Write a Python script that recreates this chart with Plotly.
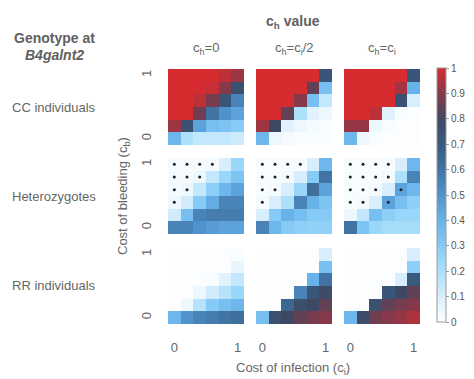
import plotly.graph_objects as go

W, H = 474, 379

# ---------------- data ----------------
axis_vals = [0, 0.2, 0.4, 0.6, 0.8, 1.0]   # c_i (x) and c_b (y) grid
col_titles = ["c<sub>h</sub>=0", "c<sub>h</sub>=c<sub>i</sub>/2", "c<sub>h</sub>=c<sub>i</sub>"]
row_titles = ["CC individuals", "Heterozygotes", "RR individuals"]

# rows listed bottom (c_b=0) -> top (c_b=1), columns c_i=0 -> 1
cc_ch0 = [
    [0.38, 0.20, 0.15, 0.15, 0.15, 0.13],
    [0.93, 0.75, 0.45, 0.35, 0.33, 0.30],
    [1.00, 1.00, 0.87, 0.60, 0.50, 0.45],
    [1.00, 1.00, 0.97, 0.88, 0.72, 0.55],
    [1.00, 1.00, 1.00, 0.98, 0.90, 0.75],
    [1.00, 1.00, 1.00, 1.00, 0.97, 0.93],
]
cc_chhalf = [
    [0.38, 0.05, 0.03, 0.02, 0.02, 0.02],
    [0.93, 0.80, 0.08, 0.05, 0.03, 0.02],
    [1.00, 1.00, 0.85, 0.20, 0.08, 0.05],
    [1.00, 1.00, 1.00, 0.90, 0.35, 0.15],
    [1.00, 1.00, 1.00, 1.00, 0.85, 0.35],
    [1.00, 1.00, 1.00, 1.00, 1.00, 0.72],
]
cc_chi = [
    [0.38, 0.05, 0.02, 0.01, 0.01, 0.01],
    [0.92, 0.92, 0.05, 0.02, 0.01, 0.01],
    [1.00, 1.00, 0.97, 0.08, 0.02, 0.01],
    [1.00, 1.00, 1.00, 1.00, 0.75, 0.10],
    [1.00, 1.00, 1.00, 1.00, 0.94, 0.40],
    [1.00, 1.00, 1.00, 1.00, 1.00, 0.72],
]
het_ch0 = [
    [0.55, 0.55, 0.50, 0.47, 0.45, 0.45],
    [0.12, 0.35, 0.55, 0.57, 0.57, 0.57],
    [0.05, 0.12, 0.30, 0.42, 0.55, 0.55],
    [0.03, 0.05, 0.15, 0.28, 0.38, 0.45],
    [0.03, 0.03, 0.05, 0.15, 0.25, 0.33],
    [0.03, 0.03, 0.03, 0.03, 0.10, 0.25],
]
het_chhalf = [
    [0.55, 0.38, 0.30, 0.28, 0.27, 0.27],
    [0.10, 0.30, 0.40, 0.35, 0.30, 0.30],
    [0.03, 0.10, 0.20, 0.55, 0.40, 0.33],
    [0.02, 0.03, 0.10, 0.25, 0.62, 0.45],
    [0.02, 0.02, 0.03, 0.10, 0.30, 0.60],
    [0.02, 0.02, 0.02, 0.02, 0.10, 0.38],
]
het_chi = [
    [0.60, 0.33, 0.25, 0.22, 0.22, 0.22],
    [0.05, 0.15, 0.35, 0.28, 0.25, 0.25],
    [0.02, 0.03, 0.10, 0.45, 0.35, 0.28],
    [0.02, 0.02, 0.03, 0.10, 0.45, 0.38],
    [0.02, 0.02, 0.02, 0.03, 0.20, 0.55],
    [0.02, 0.02, 0.02, 0.02, 0.10, 0.38],
]
rr_ch0 = [
    [0.38, 0.50, 0.55, 0.57, 0.60, 0.62],
    [0.01, 0.05, 0.18, 0.30, 0.35, 0.38],
    [0.01, 0.01, 0.05, 0.12, 0.18, 0.25],
    [0.01, 0.01, 0.01, 0.02, 0.08, 0.15],
    [0.01, 0.01, 0.01, 0.01, 0.01, 0.06],
    [0.01, 0.01, 0.01, 0.01, 0.01, 0.02],
]
rr_chhalf = [
    [0.35, 0.75, 0.80, 0.85, 0.88, 0.90],
    [0.01, 0.01, 0.65, 0.76, 0.80, 0.85],
    [0.01, 0.01, 0.01, 0.55, 0.72, 0.78],
    [0.01, 0.01, 0.01, 0.01, 0.40, 0.60],
    [0.01, 0.01, 0.01, 0.01, 0.01, 0.35],
    [0.01, 0.01, 0.01, 0.01, 0.01, 0.10],
]
rr_chi = [
    [0.38, 0.78, 0.87, 0.90, 0.92, 0.95],
    [0.01, 0.01, 0.75, 0.85, 0.88, 0.90],
    [0.01, 0.01, 0.01, 0.72, 0.80, 0.85],
    [0.01, 0.01, 0.01, 0.01, 0.10, 0.70],
    [0.01, 0.01, 0.01, 0.01, 0.01, 0.28],
    [0.01, 0.01, 0.01, 0.01, 0.01, 0.10],
]
panels = [
    [cc_ch0, cc_chhalf, cc_chi],
    [het_ch0, het_chhalf, het_chi],
    [rr_ch0, rr_chhalf, rr_chi],
]

# marked cells in heterozygote panels (c_i, c_b)
het_dots_ch0_x = [0, 0.2, 0.4, 0.6, 0, 0.2, 0.4, 0, 0.2, 0]
het_dots_ch0_y = [1, 1, 1, 1, 0.8, 0.8, 0.8, 0.6, 0.6, 0.4]
het_dots_chhalf_x = [0, 0.2, 0.4, 0.6, 0, 0.2, 0.4, 0, 0.2, 0]
het_dots_chhalf_y = [1, 1, 1, 1, 0.8, 0.8, 0.8, 0.6, 0.6, 0.4]
het_dots_chi_x = [0, 0.2, 0.4, 0.6, 0, 0.2, 0.4, 0.6, 0, 0.2, 0.4, 0.8, 0, 0.2, 0.6]
het_dots_chi_y = [1, 1, 1, 1, 0.8, 0.8, 0.8, 0.8, 0.6, 0.6, 0.6, 0.6, 0.4, 0.4, 0.4]
het_dots = [(het_dots_ch0_x, het_dots_ch0_y),
            (het_dots_chhalf_x, het_dots_chhalf_y),
            (het_dots_chi_x, het_dots_chi_y)]

cbar_ticks = [0, 0.1, 0.2, 0.3, 0.4, 0.5, 0.6, 0.7, 0.8, 0.9, 1]
cbar_ticktext = ["0", "0.1", "0.2", "0.3", "0.4", "0.5", "0.6", "0.7", "0.8", "0.9", "1"]

# ---------------- style ----------------
colorscale = [
    [0.0, "#ffffff"], [0.1, "#d9eefc"], [0.2, "#ace0fb"], [0.3, "#86cbf6"],
    [0.4, "#68b2ea"], [0.5, "#5093cc"], [0.6, "#4274a3"], [0.7, "#385a7e"],
    [0.8, "#3f4862"], [0.9, "#86394a"], [1.0, "#d62c30"],
]
FONT = "Liberation Sans, Arial, Helvetica, sans-serif"
GREY = "#666666"

col_px = [(168, 244), (256, 332), (344, 420)]
row_px = [(69, 145), (158, 234), (248, 324)]

def px_x(v):
    return v / W

def px_y(v):
    return 1 - v / H

fig = go.Figure()
layout = {}
for r in range(3):
    for c in range(3):
        k = r * 3 + c + 1
        xa = "x" if k == 1 else f"x{k}"
        ya = "y" if k == 1 else f"y{k}"
        fig.add_trace(go.Heatmap(
            z=panels[r][c], x=axis_vals, y=axis_vals,
            coloraxis="coloraxis", xaxis=xa, yaxis=ya,
            hoverinfo="skip",
        ))
        if r == 1:
            dx, dy = het_dots[c]
            fig.add_trace(go.Scatter(
                x=dx, y=dy, mode="markers", xaxis=xa, yaxis=ya,
                marker=dict(color="#222222", size=3),
                showlegend=False, hoverinfo="skip",
            ))
        x0, x1 = col_px[c]
        y0, y1 = row_px[r]
        xname = "xaxis" if k == 1 else f"xaxis{k}"
        yname = "yaxis" if k == 1 else f"yaxis{k}"
        layout[xname] = dict(
            domain=[px_x(x0), px_x(x1)], anchor=ya,
            range=[-0.1, 1.1], showgrid=False, zeroline=False, showline=False,
            tickvals=[0, 1], ticktext=["0", "1"], showticklabels=(r == 2),
            ticks="outside" if r == 2 else "", ticklen=11, tickcolor="rgba(0,0,0,0)",
            tickfont=dict(size=13, color=GREY, family=FONT), fixedrange=True,
        )
        layout[yname] = dict(
            domain=[px_y(y1), px_y(y0)], anchor=xa,
            range=[-0.1, 1.1], showgrid=False, zeroline=False, showline=False,
            tickvals=[0, 1], ticktext=["0", "1"], showticklabels=(c == 0),
            ticks="outside" if c == 0 else "", ticklen=11, tickcolor="rgba(0,0,0,0)",
            tickangle=-90,
            tickfont=dict(size=13, color=GREY, family=FONT), fixedrange=True,
        )

annotations = []
def ann(text, x, y, size=13, color=GREY, angle=0, xanchor="center"):
    annotations.append(dict(
        text=text, x=px_x(x), y=px_y(y), xref="paper", yref="paper",
        showarrow=False, textangle=angle, xanchor=xanchor, yanchor="middle",
        font=dict(size=size, color=color, family=FONT),
    ))

ann("<b>c<sub>h</sub> value</b>", 293, 22, size=14, color="#5f5f5f")
ann("<b>Genotype at</b>", 54, 38, size=14, color="#5f5f5f")
ann("<b><i>B4galnt2</i></b>", 54, 55, size=14, color="#5f5f5f")
for c, t in enumerate(col_titles):
    ann(t, (col_px[c][0] + col_px[c][1]) / 2, 48, size=13)
row_label_y = [107, 196, 285]
for r, t in enumerate(row_titles):
    ann(t, 54, row_label_y[r], size=13)
ann("Cost of bleeding (c<sub>b</sub>)", 123, 196, size=13, angle=-90)
ann("Cost of infection (c<sub>i</sub>)", 293, 368, size=13)

fig.update_layout(
    width=W, height=H,
    margin=dict(l=0, r=0, t=0, b=0),
    paper_bgcolor="white", plot_bgcolor="white",
    showlegend=False,
    annotations=annotations,
    coloraxis=dict(
        colorscale=colorscale, cmin=0, cmax=1,
        colorbar=dict(
            x=px_x(437), xanchor="left", xref="paper",
            y=px_y(195), yanchor="middle", yref="paper",
            len=(322 - 68) / H, lenmode="fraction",
            thickness=9, outlinewidth=1, outlinecolor="#9a9a9a",
            tickvals=cbar_ticks, ticktext=cbar_ticktext,
            ticks="outside", ticklen=3, tickcolor="#9a9a9a",
            tickfont=dict(size=10, color="#555555", family=FONT),
            xpad=0, ypad=0,
        ),
    ),
    **layout,
)

fig.write_html(
    "out.html",
    config={"displayModeBar": False, "staticPlot": True},
    post_script="document.body.style.margin='0';document.body.style.overflow='hidden';",
)
